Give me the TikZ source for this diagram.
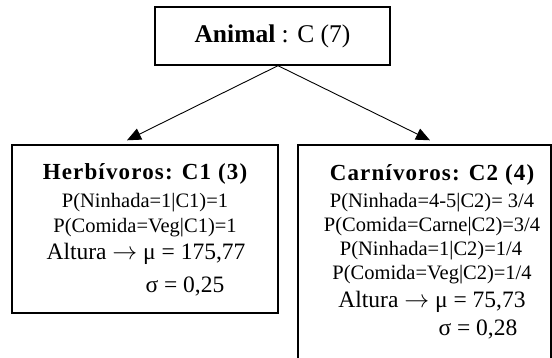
\documentclass[tikz,border=0pt]{standalone}
\usepackage{fontspec}
\setmainfont{Liberation Serif}
\usetikzlibrary{arrows.meta}

\begin{document}
\begin{tikzpicture}[x=1pt,y=-1pt,
    box/.style={draw,line width=1.4pt,inner sep=0pt},
    conn/.style={line width=0.9pt,-{Triangle[length=14pt,width=12pt]}},
    head/.style={anchor=base,font=\fontsize{23}{23}\selectfont\bfseries\addfontfeature{LetterSpace=5}},
    prob/.style={anchor=base,font=\fontsize{20.5}{21}\selectfont},
    gauss/.style={anchor=base,font=\fontsize{23.5}{24}\selectfont}]
        \useasboundingbox (0,0) rectangle (552,358);
        % root
        \node[box,minimum width=235pt,minimum height=58pt,font=\fontsize{25.5}{26}\selectfont]
            (animal) at (272.5,36) {\textbf{Animal} : C (7)};
        % classes
        \node[box,minimum width=266pt,minimum height=168pt] (herb) at (145,229) {};
        \node[box,minimum width=253pt,minimum height=234pt] (carn) at (424.5,262) {};
        \coordinate (split) at ([xshift=5.5pt]animal.south);
        \draw[conn] (split) -- ([xshift=-18pt,yshift=4pt]herb.north);
        \draw[conn] (split) -- ([xshift=5.5pt,yshift=4pt]carn.north);
        % herbivoros
        \node[head] (herbT) at (145,180) {Herbívoros: C1 (3)};
        \node[prob] (herbA) at (145,208) {P(Ninhada=1|C1)=1};
        \node[prob] (herbB) at (145,233) {P(Comida=Veg|C1)=1};
        \node[gauss] (herbM) at (146,260) {Altura $\rightarrow$ μ = 175,77};
        \node[gauss,anchor=base west] (herbS) at (142,293) {σ = 0,25};
        % carnivoros
        \node[head] (carnT) at (432,181) {Carnívoros: C2 (4)};
        \node[prob] (carnA) at (432,208) {P(Ninhada=4-5|C2)= 3/4};
        \node[prob] (carnB) at (432,232) {P(Comida=Carne|C2)=3/4};
        \node[prob] (carnC) at (431,256) {P(Ninhada=1|C2)=1/4};
        \node[prob] (carnD) at (432,280) {P(Comida=Veg|C2)=1/4};
        \node[gauss] (carnM) at (432,308) {Altura $\rightarrow$ μ = 75,73};
        \node[gauss,anchor=base west] (carnS) at (435,335) {σ = 0,28};
\end{tikzpicture}
\end{document}
